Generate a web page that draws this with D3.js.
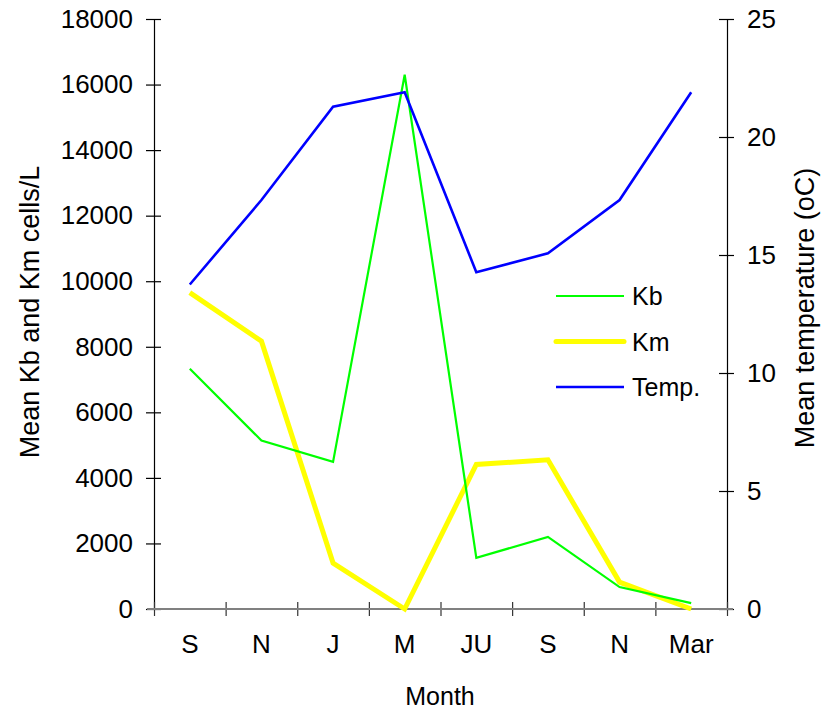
<!DOCTYPE html>
<html>
<head>
<meta charset="utf-8">
<script src="https://cdn.jsdelivr.net/npm/d3@7"></script>
<style>
  body { margin: 0; background: #fff; }
  text { font-family: "Liberation Sans", Arial, sans-serif; fill: #000; }
</style>
</head>
<body>
<svg id="chart" width="823" height="713"></svg>
<script>
// ---- data ----
const months = ["S", "N", "J", "M", "JU", "S", "N", "Mar"];
const kb = [7330, 5140, 4490, 16300, 1560, 2200, 670, 180];
const km = [9650, 8170, 1400, 0, 4410, 4550, 820, 0];
const temp = [13.75, 17.33, 21.28, 21.9, 14.27, 15.07, 17.33, 21.9];
const leftTicks = [0, 2000, 4000, 6000, 8000, 10000, 12000, 14000, 16000, 18000];
const rightTicks = [0, 5, 10, 15, 20, 25];
const legendItems = ["Kb", "Km", "Temp."];

(function () {
const svg = d3.select("#chart");
const pL = 154, pR = 727, pT = 19, pB = 609;
const idx = d3.range(months.length);

const x = d3.scaleBand().domain(idx).range([pL, pR]).padding(0);
const xb = d3.scaleLinear().domain([0, months.length]).range([pL, pR]);
const yL = d3.scaleLinear().domain([0, 18000]).range([pB, pT]);
const yR = d3.scaleLinear().domain([0, 25]).range([pB, pT]);
const fs = "25px";
const fsTick = "26px";
const fsTitle = "27px";
const ff = "'Liberation Sans', Arial, sans-serif";

// left axis
const gL = svg.append("g").attr("transform", `translate(${pL},0)`)
  .call(d3.axisLeft(yL).tickValues(leftTicks).tickSize(8).tickPadding(13).tickFormat(d3.format("d")));
gL.select(".domain").attr("stroke", "#000").attr("stroke-width", 1.2);
gL.selectAll(".tick line").attr("x1", 7).attr("x2", -8).attr("stroke", "#000").attr("stroke-width", 1.2);
gL.selectAll(".tick text").style("font-size", fsTick).style("font-family", ff);

// right axis
const gR = svg.append("g").attr("transform", `translate(${pR},0)`)
  .call(d3.axisRight(yR).tickValues(rightTicks).tickSize(7).tickPadding(13));
gR.select(".domain").attr("stroke", "#000").attr("stroke-width", 1.2);
gR.selectAll(".tick line").attr("x1", -8).attr("x2", 7).attr("stroke", "#000").attr("stroke-width", 1.2);
gR.selectAll(".tick text").style("font-size", fsTick).style("font-family", ff);

// bottom boundary ticks (crossing) and gray axis line
const gB = svg.append("g").attr("transform", `translate(0,${pB})`)
  .call(d3.axisBottom(xb).tickValues(d3.range(0, months.length + 1)).tickSize(7).tickFormat(""));
gB.select(".domain").remove();
gB.selectAll(".tick line").attr("y1", -7).attr("y2", 7).attr("stroke", "#333").attr("stroke-width", 1.2);
svg.append("line").attr("x1", pL - 7).attr("x2", pR + 6)
  .attr("y1", pB).attr("y2", pB).attr("stroke", "#808080").attr("stroke-width", 2);

// month labels
const gM = svg.append("g").attr("transform", `translate(0,${pB})`)
  .call(d3.axisBottom(x).tickSize(0).tickPadding(26).tickFormat(i => months[i]));
gM.select(".domain").remove();
gM.selectAll(".tick text").style("font-size", fsTick).style("font-family", ff);

// lines
const cx = i => x(i) + x.bandwidth() / 2;
const lineL = d3.line().x((d, i) => cx(i)).y(d => yL(d));
const lineR = d3.line().x((d, i) => cx(i)).y(d => yR(d));
const colors = { Kb: "#00ff00", Km: "#ffff00", "Temp.": "#0000ff" };
const widths = { Kb: 2.2, Km: 5, "Temp.": 2.6 };

svg.append("path").datum(km).attr("d", lineL).attr("fill", "none")
  .attr("stroke", colors.Km).attr("stroke-width", widths.Km);
svg.append("path").datum(kb).attr("d", lineL).attr("fill", "none")
  .attr("stroke", colors.Kb).attr("stroke-width", widths.Kb);
svg.append("path").datum(temp).attr("d", lineR).attr("fill", "none")
  .attr("stroke", colors["Temp."]).attr("stroke-width", widths["Temp."]);

// legend
const legY = d3.scalePoint().domain(legendItems).range([296, 387]);
const lg = svg.append("g");
legendItems.forEach(k => {
  lg.append("line").attr("x1", 556).attr("x2", 624).attr("y1", legY(k)).attr("y2", legY(k))
    .attr("stroke", colors[k]).attr("stroke-width", widths[k]).attr("stroke-linecap", k === "Km" ? "round" : "butt");
  lg.append("text").attr("x", 632).attr("y", legY(k)).attr("dy", "0.36em")
    .style("font-size", fs).text(k);
});

// titles
svg.append("text").attr("x", 440).attr("y", 705).attr("text-anchor", "middle")
  .style("font-size", fs).text("Month");
svg.append("text").attr("transform", "translate(39,312) rotate(-90)").attr("text-anchor", "middle")
  .style("font-size", fsTitle).text("Mean Kb and Km cells/L");
svg.append("text").attr("transform", "translate(814,308) rotate(-90)").attr("text-anchor", "middle")
  .style("font-size", fsTitle).text("Mean temperature (oC)");
})();
</script>
</body>
</html>
